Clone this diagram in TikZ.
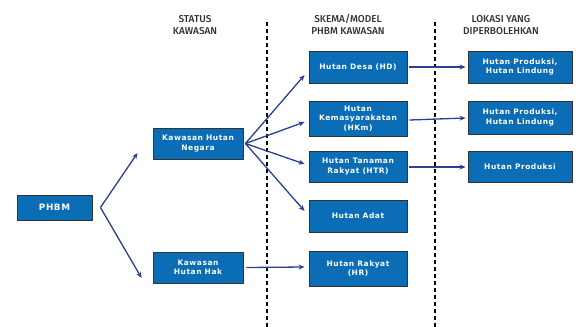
\documentclass[tikz,border=0pt]{standalone}
\usepackage{fontspec}
\newfontfamily\boxfont[LetterSpace=7]{DejaVu Sans}
\newfontfamily\headfont{Fira Sans Medium}
\usetikzlibrary{arrows,arrows.meta,positioning}
\definecolor{boxblue}{RGB}{10,109,181}
\definecolor{arrblue}{RGB}{43,62,143}
\definecolor{headgray}{RGB}{50,50,50}

\begin{document}
\begin{tikzpicture}[x=1pt,y=-1pt,>={Stealth[length=6pt,width=5pt]},
  box/.style={draw=black!80,fill=boxblue,text=white,line width=0.9pt,
    font=\boxfont\bfseries\fontsize{7.5}{9.6}\selectfont,align=center,inner sep=0pt},
  head/.style={text=headgray,font=\headfont\fontsize{10}{12}\selectfont,align=center},
  link/.style={->,draw=arrblue,line width=1.3pt},
  divider/.style={dashed,dash pattern=on 4pt off 3pt,line width=1.4pt}]
   \useasboundingbox (0,0) rectangle (579,327);
   % kolom judul
   \node[head] (hstatus) at (195,25) {STATUS\\KAWASAN};
   \node[head] (hskema)  at (348,25) {SKEMA/MODEL\\PHBM KAWASAN};
   \node[head] (hlokasi) at (501,25) {LOKASI YANG\\DIPERBOLEHKAN};
   % garis pembatas
   \coordinate (d1top) at (267,22);
   \coordinate (d1bot) at (267,327);
   \coordinate (d2top) at (435,22);
   \coordinate (d2bot) at (435,327);
   \draw[divider] (d1top) -- (d1bot);
   \draw[divider] (d2top) -- (d2bot);
   % kotak
   \node[box,minimum width=75pt,minimum height=25pt,
     font=\boxfont\bfseries\fontsize{8.8}{10}\selectfont] (phbm) at (54.5,207.5) {PHBM};
   \node[box,minimum width=90pt,minimum height=31pt] (negara) at (198,143.5) {Kawasan Hutan\\Negara};
   \node[box,minimum width=90pt,minimum height=31pt] (hak) at (198,267.5) {Kawasan\\Hutan Hak};
   \node[box,minimum width=98pt,minimum height=32pt] (desa) at (358,67) {Hutan Desa (HD)};
   \node[box,minimum width=98pt,minimum height=35pt] (hkm) at (358,118.5) {Hutan\\Kemasyarakatan\\(HKm)};
   \node[box,minimum width=98pt,minimum height=31pt] (htr) at (358,166.5) {Hutan Tanaman\\Rakyat (HTR)};
   \node[box,minimum width=98pt,minimum height=32pt] (adat) at (358,216) {Hutan Adat};
   \node[box,minimum width=98pt,minimum height=35pt] (rakyat) at (358,268.5) {Hutan Rakyat\\(HR)};
   \node[box,minimum width=104pt,minimum height=32pt] (lok1) at (520,67) {Hutan Produksi,\\Hutan Lindung};
   \node[box,minimum width=104pt,minimum height=33pt] (lok2) at (520,117.5) {Hutan Produksi,\\Hutan Lindung};
   \node[box,minimum width=104pt,minimum height=31pt] (lok3) at (520,166.5) {Hutan Produksi};
   % panah
   \coordinate (pfork) at ([xshift=8pt]phbm.east);
   \coordinate (nfork) at ([xshift=2pt]negara.east);
   \draw[link] (pfork) -- ([xshift=-15pt,yshift=-9.5pt]negara.west);
   \draw[link] (pfork) -- ([xshift=-11pt,yshift=-10.5pt]hak.west);
   \draw[link] (nfork) -- ([xshift=-4pt,yshift=-8pt]desa.west);
   \draw[link] (nfork) -- ([xshift=-4pt,yshift=-3.5pt]hkm.west);
   \draw[link] (nfork) -- ([xshift=-4pt,yshift=2.5pt]htr.west);
   \draw[link] (nfork) -- ([xshift=-4pt,yshift=5pt]adat.west);
   \draw[link] ([xshift=3pt]hak.east) -- ([xshift=-4pt,yshift=1.5pt]rakyat.west);
   \draw[link] ([xshift=2pt]desa.east) -- ([xshift=-2pt]lok1.west);
   \draw[link] ([xshift=2pt,yshift=-1.5pt]hkm.east) -- ([xshift=-2pt,yshift=-0.5pt]lok2.west);
   \draw[link] ([xshift=2pt,yshift=-0.5pt]htr.east) -- ([xshift=-2pt,yshift=-0.5pt]lok3.west);
\end{tikzpicture}
\end{document}
